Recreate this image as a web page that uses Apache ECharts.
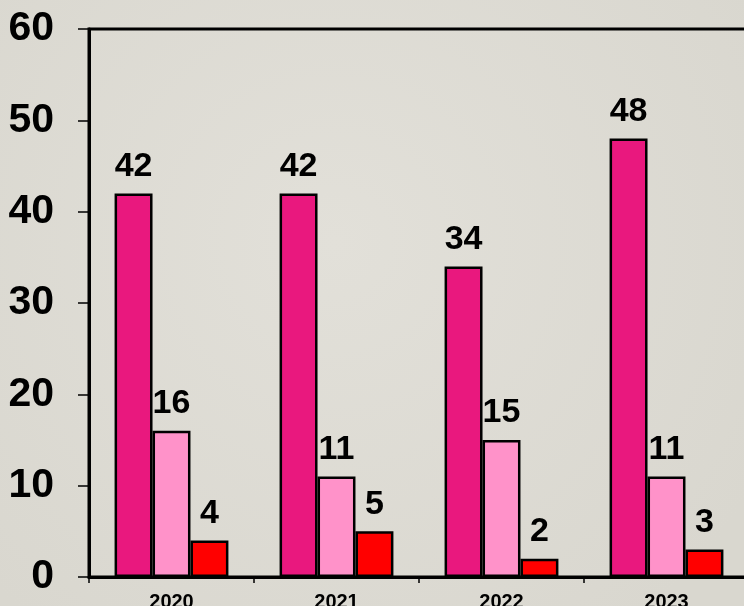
<!DOCTYPE html>
<html>
<head>
<meta charset="utf-8">
<script src="https://cdn.jsdelivr.net/npm/echarts@6/dist/echarts.min.js"></script>
<style>
html,body{margin:0;padding:0;background:#dedcd4;}
#c{width:744px;height:606px;}
</style>
</head>
<body>
<div id="c"></div>
<script>
const categories = ['2020', '2021', '2022', '2023'];
const series1 = [42, 42, 34, 48];
const series2 = [16, 11, 15, 11];
const series3 = [4, 5, 2, 3];
const yTicks = [0, 10, 20, 30, 40, 50, 60];

const chart = echarts.init(document.getElementById('c'));
const font = 'Arial, "Liberation Sans", sans-serif';
function bar(name, data, color) {
  return {
    name: name,
    type: 'bar',
    data: data,
    barGap: '0%',
    barCategoryGap: '31%',
    itemStyle: { color: color, borderColor: '#000', borderWidth: 2.5 },
    label: {
      show: true, position: 'top', distance: 10,
      color: '#000', fontWeight: 'bold', fontSize: 34, fontFamily: font
    }
  };
}
chart.setOption({
  backgroundColor: {
    type: 'radial', x: 0.45, y: 0.4, r: 0.8,
    colorStops: [{ offset: 0, color: '#e2e0d9' }, { offset: 1, color: '#d9d7cf' }]
  },
  animation: false,
  grid: {
    left: 89, top: 29, width: 660, height: 548,
    containLabel: false, outerBoundsMode: 'none',
    show: true, borderColor: '#000', borderWidth: 3, backgroundColor: 'transparent'
  },
  xAxis: {
    type: 'category',
    data: categories,
    axisLine: { lineStyle: { color: '#000', width: 3 } },
    axisTick: { show: true, length: 6, lineStyle: { color: '#000', width: 1.5 } },
    axisLabel: { color: '#000', fontWeight: 'bold', fontSize: 20, fontFamily: font, margin: 15 }
  },
  yAxis: {
    type: 'value',
    min: yTicks[0], max: yTicks[yTicks.length - 1], interval: 10,
    splitLine: { show: false },
    axisLine: { show: true, lineStyle: { color: '#000', width: 3 } },
    axisTick: { show: true, length: 11, lineStyle: { color: '#000', width: 1.5 } },
    axisLabel: { color: '#000', fontWeight: 'bold', fontSize: 41, fontFamily: font, margin: 35 }
  },
  series: [
    bar('Serie 1', series1, '#e9187e'),
    bar('Serie 2', series2, '#ff92c9'),
    bar('Serie 3', series3, '#ff0000')
  ]
});
</script>
</body>
</html>
